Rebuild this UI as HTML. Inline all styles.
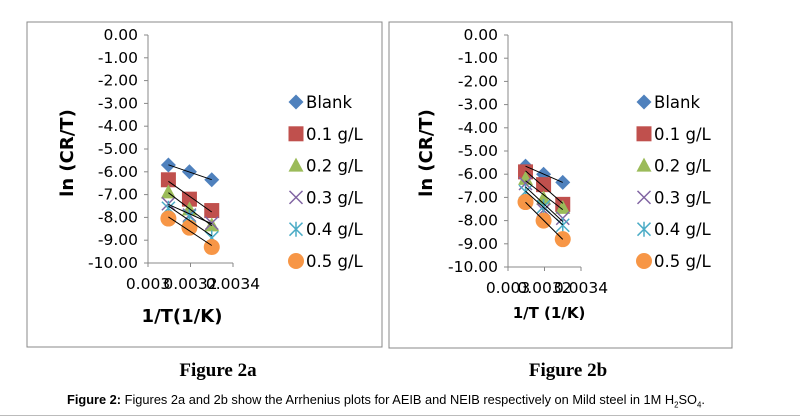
<!DOCTYPE html>
<html><head><meta charset="utf-8"><style>
body{margin:0;background:#fff;width:800px;height:417px;overflow:hidden;position:relative;font-family:"DejaVu Sans","Liberation Sans",sans-serif}
svg{position:absolute;left:0;top:0}
.fig{position:absolute;font-family:"Liberation Serif",serif;font-weight:bold;font-size:19px;transform:translateX(-50%)}
</style></head><body>
<svg width="800" height="417" id="chart">
<rect x="27" y="22" width="355" height="325" fill="none" stroke="#888"/>
<rect x="389" y="22" width="343" height="326" fill="none" stroke="#888"/>
<line x1="0" y1="415.5" x2="800" y2="415.5" stroke="#bbb"/>
</svg>
<div class="fig" style="left:218px;top:360px">Figure 2a</div>
<div class="fig" style="left:568px;top:360px">Figure 2b</div>
<div style="position:absolute;left:67px;top:392px;font-family:'Liberation Sans',sans-serif;font-size:13px;transform:scaleX(0.985);transform-origin:left;white-space:nowrap"><b>Figure 2:</b> Figures 2a and 2b show the Arrhenius plots for AEIB and NEIB respectively on Mild steel in 1M H<sub style="font-size:8px">2</sub>SO<sub style="font-size:8px">4</sub>.</div>
<script>
const xVals=[0.003096,0.003195,0.0033];
const seriesNames=["Blank","0.1 g/L","0.2 g/L","0.3 g/L","0.4 g/L","0.5 g/L"];
const yTicks=[0,-1,-2,-3,-4,-5,-6,-7,-8,-9,-10];
const xTicks=[0.003,0.0032,0.0034];
const a_blank=[-5.7,-6.0,-6.35];
const a_01=[-6.35,-7.2,-7.7];
const a_02=[-6.9,-7.65,-8.35];
const a_03=[-7.4,-7.9,-8.25];
const a_04=[-7.6,-7.95,-8.9];
const a_05=[-8.05,-8.45,-9.3];
const b_blank=[-5.65,-6.0,-6.35];
const b_01=[-5.9,-6.45,-7.3];
const b_02=[-6.2,-7.05,-7.45];
const b_03=[-6.4,-7.55,-7.9];
const b_04=[-6.75,-7.4,-8.2];
const b_05=[-7.2,-8.0,-8.8];
const colors=["#4f81bd","#c0504d","#9bbb59","#8064a2","#4bacc6","#f79646"];
const svg=document.getElementById('chart');const NS="http://www.w3.org/2000/svg";
function mk(t,a){const e=document.createElementNS(NS,t);for(const k in a)e.setAttribute(k,a[k]);svg.appendChild(e);return e;}
function txt(x,y,s,a){const e=mk('text',Object.assign({x:x,y:y,'font-size':15.5,fill:'#000'},a||{}));e.textContent=s;return e;}
function marker(i,x,y){let e;const c=colors[i];
 if(i==0)e=mk('polygon',{points:`${x},${y-7.5} ${x+7.5},${y} ${x},${y+7.5} ${x-7.5},${y}`,fill:c});
 else if(i==1)e=mk('rect',{x:x-7.5,y:y-7.5,width:15,height:15,fill:c});
 else if(i==2)e=mk('polygon',{points:`${x},${y-8} ${x+7.5},${y+6} ${x-7.5},${y+6}`,fill:c});
 else if(i==3)e=mk('path',{d:`M${x-6.5} ${y-6.5}L${x+6.5} ${y+6.5}M${x-6.5} ${y+6.5}L${x+6.5} ${y-6.5}`,stroke:c,'stroke-width':1.5});
 else if(i==4)e=mk('path',{d:`M${x-6.5} ${y-6.5}L${x+6.5} ${y+6.5}M${x-6.5} ${y+6.5}L${x+6.5} ${y-6.5}M${x} ${y-7.5}L${x} ${y+7.5}`,stroke:c,'stroke-width':1.5});
 else e=mk('circle',{cx:x,cy:y,r:8},e={}) , e.setAttribute('fill',c);
 return e;}
function draw(p,series){
 const X=v=>p.x0+(v-0.003)/0.0004*(p.x1-p.x0);
 const Y=v=>p.y0+(-v)/10*(p.y1-p.y0);
 let e=mk('line',{x1:p.x0,y1:p.y0,x2:p.x0,y2:p.y1,stroke:'#888'});
 
 e=mk('line',{x1:p.x0,y1:p.y1,x2:p.x1,y2:p.y1,stroke:'#888'});
 
 yTicks.forEach(t=>{const y=Y(t);mk('line',{x1:p.x0-4,y1:y,x2:p.x0,y2:y,stroke:'#888'});
  e=txt(p.x0-10,y+5,t.toFixed(2),{'text-anchor':'end'});
  });
 xTicks.forEach(t=>{const x=X(t);mk('line',{x1:x,y1:p.y1,x2:x,y2:p.y1+4,stroke:'#888'});
  e=txt(x,p.y1+26,String(t),{'text-anchor':'middle'});
  });
 series.forEach((s,i)=>{
  s.forEach((v,j)=>{const m=marker(i,X(xVals[j]),Y(v));
   });
 });
 series.forEach((s,i)=>{const n=s.length;const mx=xVals.reduce((a,b)=>a+b)/n,my=s.reduce((a,b)=>a+b)/n;
  let sxy=0,sxx=0;for(let j=0;j<n;j++){sxy+=(xVals[j]-mx)*(s[j]-my);sxx+=(xVals[j]-mx)**2;}
  const b=sxy/sxx,a=my-b*mx;const xa=xVals[0],xb=xVals[n-1];
  const l=mk('line',{x1:X(xa),y1:Y(a+b*xa),x2:X(xb),y2:Y(a+b*xb),stroke:'#000','stroke-width':1});
  
  const lm=marker(i,p.lx,p.ly+i*31.8);
  
  const lt=txt(p.lx+10,p.ly+i*31.8+6,seriesNames[i],{'font-size':16.5});
  
 });
 let t=txt(p.ytx,p.yty,'ln (CR/T)',{'text-anchor':'middle','font-weight':'bold','font-size':18,transform:`rotate(-90 ${p.ytx} ${p.yty})`});
 
 t=txt(p.xtx,p.xty,p.xt,{'text-anchor':'middle','font-weight':'bold','font-size':p.xfs});
 
}
draw({id:'fig2a',x0:148,x1:233,y0:35,y1:263,lx:296,ly:102,ytx:73,yty:153,xtx:182,xty:322,xt:'1/T(1/K)',xfs:18},[a_blank,a_01,a_02,a_03,a_04,a_05]);
draw({id:'fig2b',x0:508,x1:581,y0:35,y1:267,lx:644,ly:102,ytx:432,yty:153,xtx:549,xty:318,xt:'1/T (1/K)',xfs:15},[b_blank,b_01,b_02,b_03,b_04,b_05]);
</script>
</body></html>
